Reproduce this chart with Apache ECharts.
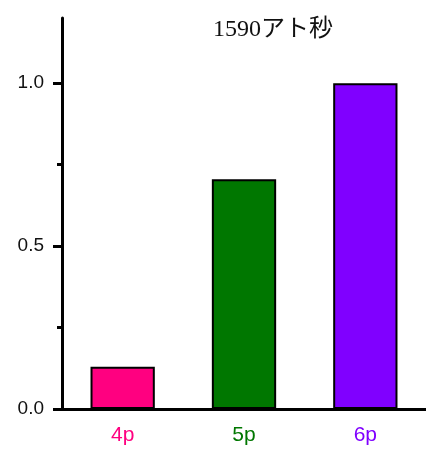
<!DOCTYPE html>
<html><head><meta charset="utf-8">
<script src="https://cdn.jsdelivr.net/npm/echarts@6/dist/echarts.min.js"></script>
<style>html,body{margin:0;padding:0;background:#fff}#c{width:426px;height:455px}</style>
</head><body><div id="c"></div>
<script>
const categories = ['4p', '5p', '6p'];
const values = [0.13, 0.705, 1.0];
const barColors = ['#ff0080', '#007700', '#8000ff'];
const yTicks = [0, 0.5, 1.0];
const titleText = '1590アト秒';

const chart = echarts.init(document.getElementById('c'));
chart.setOption({
  animation: false,
  title: {
    text: titleText, left: 268, top: 13, textAlign: 'center',
    textStyle: { fontFamily: 'Liberation Serif, Noto Sans CJK JP, serif', fontSize: 24, fontWeight: 'normal', color: '#111' }
  },
  grid: { left: 62, top: 18, width: 368, bottom: 46, containLabel: false },
  xAxis: {
    type: 'category', data: categories,
    axisLine: { lineStyle: { color: '#000', width: 3 } },
    axisTick: { alignWithLabel: true, length: 6, lineStyle: { color: '#000', width: 3 } },
    axisLabel: {
      margin: 16, fontSize: 21, fontFamily: 'Liberation Sans, Arial, sans-serif',
      color: (v, i) => barColors[categories.indexOf(v)]
    }
  },
  yAxis: {
    type: 'value', min: 0, max: 1.2, interval: 0.5,
    axisLine: { show: true, lineStyle: { color: '#000', width: 3 } },
    axisTick: { show: true, customValues: yTicks, length: 9, lineStyle: { color: '#000', width: 3 } },
    minorTick: { show: true, splitNumber: 2, length: 5, lineStyle: { color: '#000', width: 3 } },
    splitLine: { show: false },
    axisLabel: {
      margin: 18, fontSize: 19, fontFamily: 'Liberation Sans, Arial, sans-serif', color: '#111',
      customValues: yTicks,
      formatter: v => v.toFixed(1)
    }
  },
  series: [{
    type: 'bar', barWidth: '53%',
    data: values.map((v, i) => ({ value: v, itemStyle: { color: barColors[i] } })),
    itemStyle: { borderColor: '#000', borderWidth: 2 }
  }]
});
</script></body></html>
